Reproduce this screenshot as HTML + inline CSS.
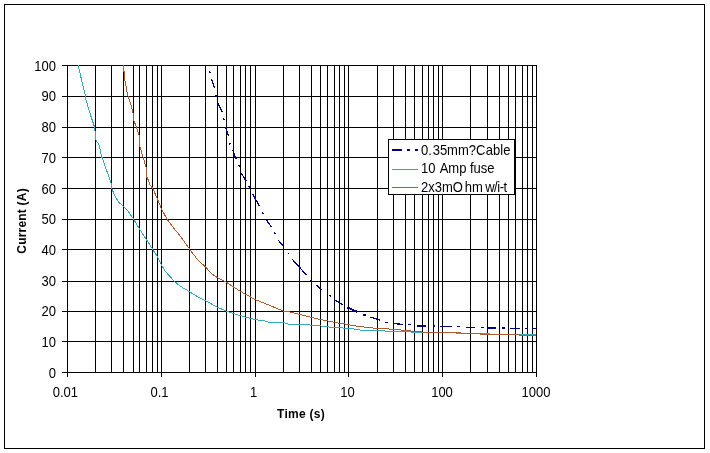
<!DOCTYPE html>
<html><head><meta charset="utf-8"><title>Chart</title>
<style>html,body{margin:0;padding:0;background:#fff;}body{width:710px;height:453px;overflow:hidden;}svg{display:block;will-change:transform;}</style>
</head><body>
<svg width="710" height="453" viewBox="0 0 710 453">
<rect x="0" y="0" width="710" height="453" fill="#fff"/>
<rect x="4.5" y="4.5" width="700" height="444" fill="none" stroke="#000" stroke-width="1" shape-rendering="crispEdges"/>
<path d="M62,372.5 H537 M62,341.5 H537 M62,311.5 H537 M62,281.5 H537 M62,249.5 H537 M62,219.5 H537 M62,188.5 H537 M62,157.5 H537 M62,127.5 H537 M62,96.5 H537 M62,65.5 H537 M67.5,65 V373 M95.5,65 V373 M111.5,65 V373 M123.5,65 V373 M133.5,65 V373 M139.5,65 V373 M146.5,65 V373 M152.5,65 V373 M157.5,65 V373 M161.5,65 V373 M189.5,65 V373 M205.5,65 V373 M217.5,65 V373 M226.5,65 V373 M233.5,65 V373 M240.5,65 V373 M245.5,65 V373 M250.5,65 V373 M255.5,65 V373 M283.5,65 V373 M299.5,65 V373 M311.5,65 V373 M320.5,65 V373 M327.5,65 V373 M334.5,65 V373 M339.5,65 V373 M344.5,65 V373 M348.5,65 V373 M377.5,65 V373 M393.5,65 V373 M405.5,65 V373 M414.5,65 V373 M422.5,65 V373 M428.5,65 V373 M433.5,65 V373 M438.5,65 V373 M442.5,65 V373 M470.5,65 V373 M487.5,65 V373 M499.5,65 V373 M508.5,65 V373 M515.5,65 V373 M522.5,65 V373 M527.5,65 V373 M532.5,65 V373 M536.5,65 V373 M67.5,373 V377 M161.5,373 V377 M255.5,373 V377 M348.5,373 V377 M442.5,373 V377 M536.5,373 V377" stroke="#000" stroke-width="1" fill="none" shape-rendering="crispEdges"/>
<path d="M209.3,71.5 L210.5,73.2 M211.5,79.3 L214.7,88.3 M215.3,94.8 L216.8,96.3 M218.1,103.5 L222.3,112.3 M223.2,118.3 L224.3,120.1 M225.6,126.5 L228.4,136.1 M229.5,142.7 L230.2,144.5 M232.3,149.8 L232.9,150.8 M233.7,153.1 L236.5,159.5 M238.2,165.5 L240,166.4 M240.7,172.5 L246.2,181 M248.2,186 L249.6,187.5 M252.5,194 L259.5,206 M261.8,212.3 L263.3,213.8 M266.5,220 L271.5,227 M274,232.5 L275.3,233.8 M278.5,240.5 L284,246.5 M288,253 L289.2,254.2 M292.5,259.5 L306.5,275 M310.3,280.5 L311.7,281.5 M316,285 L322.5,290.5 M329,295.5 L330.8,296.3 M334.7,300 L342.7,304.7 M362.5,314.8 L365.6,315 M370.4,317.2 L379.8,320 M385,322.5 L388,322.5 M393.6,323.6 L402.7,324.4 M408,324.5 L411,324.5 M440,326.5 L452,326.5 M457,326.5 L460,326.5 M466,327.5 L475,327.5 M481,327.5 L483.5,327.5 M510,328.5 L520,328.5 M525,328.5 L527.5,328.5 M533,328.5 L536.5,328.5" fill="none" stroke="#000080" stroke-width="1.3" shape-rendering="crispEdges"/>
<path d="M347.5,307.5 L357.6,312 M417,326 L426,326 M432.5,326 L435,326 M487.5,328 L496.2,328 M502,328 L505,328" fill="none" stroke="#000080" stroke-width="2" shape-rendering="crispEdges"/>
<polyline points="78,65 85.5,96 86,100 90.5,115 94.5,127 95,131 96,140 99,145 101.8,157 106.5,170 111,183 111.5,188 115.5,197 118.5,202 123.5,206.5 128,211 133.5,219 139.5,229 146,239 152.5,249 157,256 161,264 165,271 174,281 180,286 190,292 198,297 206,301 217,307 226,311 235,314 245,317 255,319.5 265,321 270,322.5 283,322.5 288,324 300,324.5 310,325 320.5,326 333,327.5 353,328.5 355,329.5 365,330.5 377,330.5 385,331 400,331.5 422,332.5 455,333 480,333.5 500,334.5 519,334.5 536,334.5" fill="none" stroke="#36A8BA" stroke-width="1" shape-rendering="crispEdges"/>
<polyline points="123.5,65 123.5,71.5 124.5,72 124.5,80 125.5,82.3 126.5,90 128,96 130.5,103 133,113 133.5,120 136.5,127 139,135 139.5,145 143,157 146,167 146.5,177 147.5,178 150,185 152.5,188 157,198 161.5,209 167,219 175,230 178,233 189.5,249 197,259 205.5,267 212,274 218,278 226,282 235,288 245,294 255,299.5 270,305.5 283,311 290,312 300,314.5 310,317 320,319.5 328,321 335,322.5 345,324 350,325 359,326.5 368,327.5 377,328.5 393.4,329.2 412.4,331.2 422,332 455,332.5 466,333.5 480,333.5 481,334.5 519,334.5 520,335.5 536,335.5" fill="none" stroke="#A85C30" stroke-width="1" shape-rendering="crispEdges"/>
<rect x="388.5" y="139.5" width="126" height="55" fill="#fff" stroke="#000" stroke-width="1" shape-rendering="crispEdges"/>
<path d="M392,150 H402 M407,150 H410 M415,150 H418" stroke="#000080" stroke-width="2" shape-rendering="crispEdges"/>
<path d="M392,169.5 H418" stroke="#36A8BA" stroke-width="1" shape-rendering="crispEdges"/>
<path d="M392,187.5 H418" stroke="#A85C30" stroke-width="1" shape-rendering="crispEdges"/>
<text transform="translate(421,155) scale(0.93,1)" font-size="14" text-anchor="start" font-family="Liberation Sans, Arial, sans-serif" >0.<tspan dx="0.86">35mm?C</tspan><tspan dx="0.43">able</tspan></text>
<text transform="translate(421,173) scale(0.93,1)" font-size="14" text-anchor="start" font-family="Liberation Sans, Arial, sans-serif" >10<tspan dx="1.40"> Amp fuse</tspan></text>
<text transform="translate(421,192) scale(0.93,1)" font-size="14" text-anchor="start" font-family="Liberation Sans, Arial, sans-serif" >2x3mO<tspan dx="1.94">hm</tspan><tspan dx="-0.86" letter-spacing="-0.48"> w/i-t</tspan></text>
<text transform="translate(56,378) scale(0.93,1)" font-size="14" text-anchor="end" font-family="Liberation Sans, Arial, sans-serif" >0</text>
<text transform="translate(56,347) scale(0.93,1)" font-size="14" text-anchor="end" font-family="Liberation Sans, Arial, sans-serif" >10</text>
<text transform="translate(56,316) scale(0.93,1)" font-size="14" text-anchor="end" font-family="Liberation Sans, Arial, sans-serif" >20</text>
<text transform="translate(56,286) scale(0.93,1)" font-size="14" text-anchor="end" font-family="Liberation Sans, Arial, sans-serif" >30</text>
<text transform="translate(56,255) scale(0.93,1)" font-size="14" text-anchor="end" font-family="Liberation Sans, Arial, sans-serif" >40</text>
<text transform="translate(56,224) scale(0.93,1)" font-size="14" text-anchor="end" font-family="Liberation Sans, Arial, sans-serif" >50</text>
<text transform="translate(56,194) scale(0.93,1)" font-size="14" text-anchor="end" font-family="Liberation Sans, Arial, sans-serif" >60</text>
<text transform="translate(56,163) scale(0.93,1)" font-size="14" text-anchor="end" font-family="Liberation Sans, Arial, sans-serif" >70</text>
<text transform="translate(56,132) scale(0.93,1)" font-size="14" text-anchor="end" font-family="Liberation Sans, Arial, sans-serif" >80</text>
<text transform="translate(56,101) scale(0.93,1)" font-size="14" text-anchor="end" font-family="Liberation Sans, Arial, sans-serif" >90</text>
<text transform="translate(56,71) scale(0.93,1)" font-size="14" text-anchor="end" font-family="Liberation Sans, Arial, sans-serif" >100</text>
<text transform="translate(65.3,397) scale(0.93,1)" font-size="14" text-anchor="middle" font-family="Liberation Sans, Arial, sans-serif" >0.01</text>
<text transform="translate(159.5,397) scale(0.93,1)" font-size="14" text-anchor="middle" font-family="Liberation Sans, Arial, sans-serif" >0.1</text>
<text transform="translate(253.6,397) scale(0.93,1)" font-size="14" text-anchor="middle" font-family="Liberation Sans, Arial, sans-serif" >1</text>
<text transform="translate(347.5,397) scale(0.93,1)" font-size="14" text-anchor="middle" font-family="Liberation Sans, Arial, sans-serif" >10</text>
<text transform="translate(442,397) scale(0.93,1)" font-size="14" text-anchor="middle" font-family="Liberation Sans, Arial, sans-serif" >100</text>
<text transform="translate(536,397) scale(0.93,1)" font-size="14" text-anchor="middle" font-family="Liberation Sans, Arial, sans-serif" >1000</text>
<text x="277" y="417.5" font-size="12" font-weight="bold" letter-spacing="0.28" font-family="Liberation Sans, Arial, sans-serif">Time (s)</text>
<text transform="translate(26.2,253.7) rotate(-90)" font-size="12" font-weight="bold" letter-spacing="0.2" font-family="Liberation Sans, Arial, sans-serif">Current (A)</text>
</svg>
</body></html>
